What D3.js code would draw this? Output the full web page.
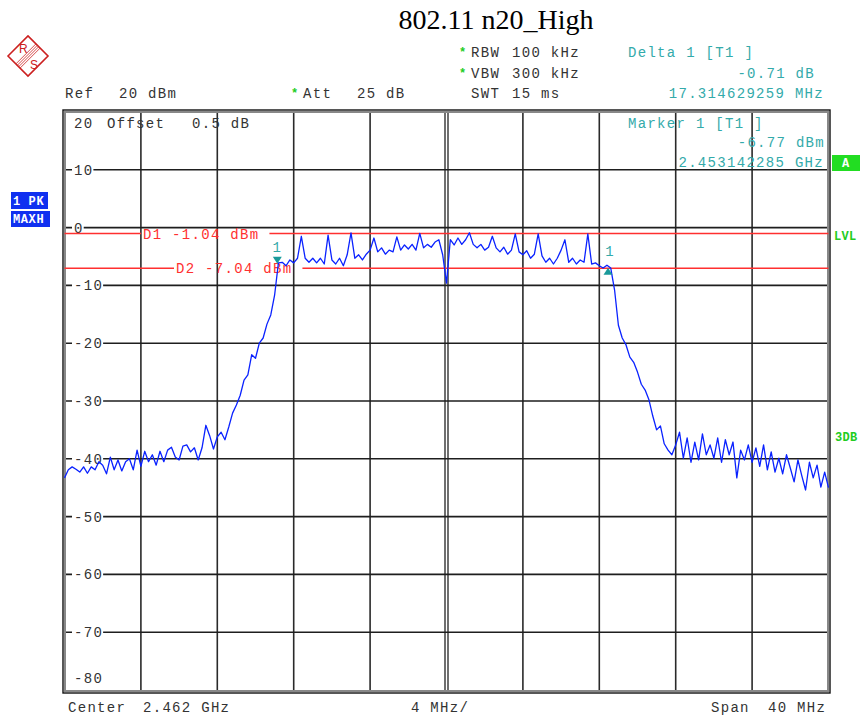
<!DOCTYPE html>
<html>
<head>
  <meta charset="utf-8">
  <title>802.11 n20_High</title>
  <style>
    body { margin: 0; background: #fff; }
    svg text { font-family: "Liberation Mono", "DejaVu Sans Mono", monospace; font-size: 14px; letter-spacing: 1.3px; fill: #333; }
  </style>
</head>
<body>
  <svg id="svg" width="860" height="720"></svg>

  <script src="https://d3js.org/d3.v7.min.js"></script>
  <script>
    // sweep: 2.442 .. 2.482 GHz, one reading every 0.2 MHz
    const startFreq = 2.442, stopFreq = 2.482, sweepStep = 0.0002;
    const divisionWidth = 0.004; // 4 MHz/div
    const traceLevels = [
      -43.3, -41.9, -41.4, -41.8, -42.3, -41.4, -42.5, -41.4, -41.9, -40.5,
      -41.1, -42.6, -39.7, -41.9, -40.2, -42.1, -40.5, -40.0, -41.9, -38.5,
      -41.3, -38.7, -40.5, -39.3, -41.1, -38.7, -40.5, -38.5, -38.0, -39.7,
      -40.2, -37.8, -37.6, -38.8, -38.1, -40.2, -38.1, -34.2, -36.0, -38.3,
      -36.2, -35.4, -36.7, -34.5, -32.1, -30.7, -29.0, -26.4, -25.5, -22.0,
      -22.6, -20.0, -19.1, -16.7, -15.1, -11.7, -6.1, -6.0, -6.6, -5.6,
      -6.1, -5.3, -1.5, -5.3, -6.0, -5.3, -6.1, -5.3, -6.3, -1.3,
      -5.6, -6.3, -5.3, -6.6, -4.7, -0.9, -5.3, -4.7, -5.6, -4.6,
      -3.9, -1.8, -4.2, -3.5, -4.6, -3.9, -4.2, -1.6, -3.9, -3.0,
      -3.7, -2.9, -3.9, -1.0, -3.5, -2.9, -3.4, -2.5, -2.1, -4.7,
      -9.6, -2.1, -3.0, -1.8, -2.9, -2.1, -0.9, -2.9, -3.5, -2.9,
      -3.9, -3.4, -1.5, -3.5, -4.2, -3.4, -4.6, -3.9, -1.1, -4.2,
      -4.7, -4.0, -5.3, -4.6, -1.1, -4.9, -6.0, -5.3, -6.3, -5.3,
      -3.9, -2.1, -6.0, -5.3, -6.3, -5.6, -6.0, -1.1, -6.3, -6.1,
      -6.6, -7.0, -6.5, -7.0, -10.8, -16.9, -19.1, -20.3, -22.4, -23.3,
      -25.0, -27.1, -28.1, -29.8, -32.6, -35.0, -34.3, -37.4, -38.5, -39.3,
      -37.6, -35.4, -39.9, -36.4, -40.6, -37.1, -40.2, -35.7, -39.3, -37.6,
      -39.9, -36.4, -40.6, -36.7, -39.3, -37.1, -43.3, -38.5, -40.2, -37.6,
      -40.6, -38.1, -41.3, -37.6, -41.9, -38.8, -42.3, -39.9, -42.6, -39.3,
      -41.6, -44.0, -40.2, -42.9, -45.4, -40.6, -43.3, -41.1, -44.9, -42.3,
      -45.0
    ];
    const yTicks = [20, 10, 0, -10, -20, -30, -40, -50, -60, -70, -80];
    const lineNames = ["D1", "D2"];
    const lineLevels = [-1.04, -7.04];
    const markerFreqs = [2.453142285, 2.453142285 + 0.017314629259];
    const markerLevels = [-6.77, -6.77 - 0.71];
    const markerKinds = ["marker", "delta"];

    const svg = d3.select("#svg");
    const x = d3.scaleLinear().domain([startFreq, stopFreq]).range([64.5, 828.5]);
    const y = d3.scaleLinear().domain([-80, 20]).range([690, 112]);

    // title
    svg.append("text").attr("x", 496).attr("y", 29).attr("text-anchor", "middle")
      .style("font-family", "'Liberation Serif', serif").style("font-size", "28px")
      .style("letter-spacing", "0px").style("fill", "#000").text("802.11 n20_High");

    // R&S logo
    const logo = svg.append("g").attr("transform", "translate(28,56)");
    logo.append("path").attr("d", "M-20,0 L0,-20 L20,0 L0,20 Z")
      .attr("fill", "none").attr("stroke", "#cc2020").attr("stroke-width", 1.6);
    [-3, -1, 1, 3].forEach(o => {
      logo.append("line").attr("x1", 10 + o * 0.7).attr("y1", -10 + o * 0.7)
        .attr("x2", -10 + o * 0.7).attr("y2", 10 + o * 0.7)
        .attr("stroke", "#cc2020").attr("stroke-width", 0.8);
    });
    logo.append("text").attr("x", -9).attr("y", -3).text("R")
      .style("font-family", "'Liberation Sans', sans-serif").style("font-size", "12px")
      .style("letter-spacing", "0px").style("fill", "#cc2020");
    logo.append("text").attr("x", 2).attr("y", 13).text("S")
      .style("font-family", "'Liberation Sans', sans-serif").style("font-size", "12px")
      .style("letter-spacing", "0px").style("fill", "#cc2020");

    // header texts
    const star = (sx, sy) => svg.append("text").attr("x", sx).attr("y", sy).text("*")
      .style("fill", "#22cc22").style("font-size", "12px").style("font-weight", "bold");
    const txt = (tx, ty, s, anchor, color) => svg.append("text").attr("x", tx).attr("y", ty)
      .attr("text-anchor", anchor || "start").style("fill", color || "#333").text(s);

    txt(65, 98, "Ref");
    txt(119, 98, "20 dBm");
    star(291, 97);
    txt(303, 98, "Att");
    txt(357, 98, "25 dB");
    star(459, 56);
    txt(471, 57, "RBW");
    txt(512, 57, "100 kHz");
    star(459, 77);
    txt(471, 78, "VBW");
    txt(512, 78, "300 kHz");
    txt(471, 98, "SWT");
    txt(512, 98, "15 ms");

    const teal = "#33aaaa";
    txt(628, 57, "Delta 1 [T1 ]", "start", teal);
    txt(815, 78, "-0.71 dB", "end", teal);
    txt(824, 98, "17.314629259 MHz", "end", teal);

    // grid
    const grid = svg.append("g");
    const xTicks = d3.range(1, 10).map(i => startFreq + i * divisionWidth);
    grid.selectAll("line.v").data(xTicks.filter((d, i) => i !== 4)).join("line")
      .attr("x1", d => x(d)).attr("x2", d => x(d))
      .attr("y1", y(20)).attr("y2", y(-80))
      .attr("stroke", "#2a2a2a").attr("stroke-width", 1.6);
    // centre line is doubled
    const cx = x((startFreq + stopFreq) / 2);
    [-1.5, 1.5].forEach(o => grid.append("line")
      .attr("x1", cx + o).attr("x2", cx + o).attr("y1", y(20)).attr("y2", y(-80))
      .attr("stroke", "#222").attr("stroke-width", 1.3));
    grid.selectAll("line.h").data(yTicks.slice(1, -1)).join("line")
      .attr("x1", x.range()[0]).attr("x2", x.range()[1])
      .attr("y1", d => y(d)).attr("y2", d => y(d))
      .attr("stroke", "#1e1e1e").attr("stroke-width", 1.6);

    // frame
    svg.append("rect").attr("x", 65).attr("y", 112).attr("width", 763).attr("height", 579)
      .attr("fill", "none").attr("stroke", "#888").attr("stroke-width", 2);
    svg.append("rect").attr("x", 63).attr("y", 110).attr("width", 767).attr("height", 583)
      .attr("fill", "none").attr("stroke", "#111").attr("stroke-width", 1.4);

    // y labels
    const yl = svg.append("g");
    yTicks.forEach(v => {
      let cy = y(v);
      if (v === 20) cy += 11;
      if (v === -80) cy -= 12;
      const t = yl.append("text").attr("x", 74).attr("y", cy).attr("dy", "0.36em").text(v);
      if (v !== 20 && v !== -80) {
        const w = t.node().getComputedTextLength();
        yl.insert("rect", "text").attr("x", 72).attr("y", cy - 6).attr("width", w + 2).attr("height", 12)
          .attr("fill", "#fff");
      }
    });

    txt(107, 128, "Offset");
    txt(192, 128, "0.5 dB");

    txt(628, 128, "Marker 1 [T1 ]", "start", teal);
    txt(825, 147, "-6.77 dBm", "end", teal);
    txt(824, 167, "2.453142285 GHz", "end", teal);

    // display lines
    const labelStart = [143, 176];
    lineLevels.forEach((lv, i) => {
      const ly = y(lv);
      const t = svg.append("text").attr("x", labelStart[i]).attr("y", ly).attr("dy", "0.36em")
        .style("fill", "#ff3030").text(`${lineNames[i]} ${lv.toFixed(2)} dBm`);
      const w = t.node().getComputedTextLength();
      svg.append("line").attr("x1", x.range()[0]).attr("x2", labelStart[i] - 2)
        .attr("y1", ly).attr("y2", ly).attr("stroke", "#ff3030").attr("stroke-width", 1.5);
      svg.append("line").attr("x1", labelStart[i] + w + 10).attr("x2", x.range()[1])
        .attr("y1", ly).attr("y2", ly).attr("stroke", "#ff3030").attr("stroke-width", 1.5);
    });

    // trace
    const line = d3.line()
      .x((d, i) => x(startFreq + i * sweepStep))
      .y(d => y(d));
    svg.append("path").datum(traceLevels).attr("d", line)
      .attr("fill", "none").attr("stroke", "#0a22ff").attr("stroke-width", 1.3)
      .attr("stroke-linejoin", "round");

    // markers
    markerFreqs.forEach((f, i) => {
      const mx = x(f), my = y(markerLevels[i]);
      if (markerKinds[i] === "marker") {
        svg.append("path").attr("d", `M${mx - 4.5},${my - 10} L${mx + 4.5},${my - 10} L${mx},${my - 3} Z`)
          .attr("fill", "#1a9a9a");
        svg.append("text").attr("x", mx).attr("y", my - 15).attr("text-anchor", "middle")
          .style("fill", teal).text("1");
      } else {
        svg.append("path").attr("d", `M${mx - 4.5},${my + 4} L${mx + 4.5},${my + 4} L${mx},${my - 3} Z`)
          .attr("fill", "#1a9a9a");
        svg.append("text").attr("x", mx + 2).attr("y", my - 15).attr("text-anchor", "middle")
          .style("fill", teal).text("1");
      }
    });

    // side boxes
    const box = (bx, by, bw, bh, color, s, tx) => {
      svg.append("rect").attr("x", bx).attr("y", by).attr("width", bw).attr("height", bh).attr("fill", color);
      svg.append("text").attr("x", tx).attr("y", by + bh - 4).text(s)
        .style("fill", "#fff").style("font-weight", "bold").style("font-size", "12px").style("letter-spacing", "0.6px");
    };
    box(11, 192, 37, 17, "#1030f0", "1 PK", 13);
    box(11, 211, 39, 16, "#1030f0", "MAXH", 13);
    box(832, 155, 28, 16, "#22dd22", "A", 842);

    svg.append("text").attr("x", 834).attr("y", 240).text("LVL")
      .style("fill", "#22cc22").style("font-weight", "bold").style("font-size", "12px").style("letter-spacing", "0.3px");
    svg.append("text").attr("x", 835).attr("y", 441).text("3DB")
      .style("fill", "#22cc22").style("font-weight", "bold").style("font-size", "12px").style("letter-spacing", "0.3px");

    // footer
    txt(68, 712, "Center");
    txt(143, 712, "2.462 GHz");
    txt(440, 712, "4 MHz/", "middle");
    txt(711, 712, "Span");
    txt(768, 712, "40 MHz");
  </script>
</body>
</html>
